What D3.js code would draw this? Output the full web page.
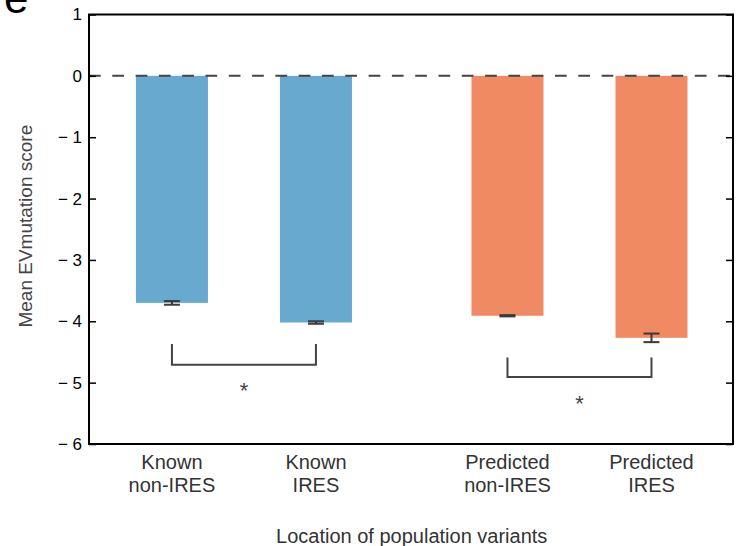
<!DOCTYPE html>
<html>
<head>
<meta charset="utf-8">
<script src="https://cdn.jsdelivr.net/npm/d3@7"></script>
<style>
  body { margin: 0; background: #fff; }
  text { font-family: "Liberation Sans", Arial, sans-serif; }
</style>
</head>
<body>
<svg id="chart" width="741" height="546"></svg>
<script>
// bar data
var labelTop = ["Known", "Known", "Predicted", "Predicted"];
var labelBottom = ["non-IRES", "IRES", "non-IRES", "IRES"];
var positions = [0, 1, 2.33, 3.33];
var means = [-3.70, -4.02, -3.91, -4.27];
var errors = [0.03, 0.02, 0.01, 0.07];
var barColors = ["#67a9cf", "#67a9cf", "#ef8a62", "#ef8a62"];

// significance brackets (bar index from/to, y values in data units)
var bracketFrom = [0, 2];
var bracketTo = [1, 3];
var bracketTop = [-4.37, -4.59];
var bracketBottom = [-4.71, -4.91];
var starY = [-5.0, -5.21];

var yTicks = [1, 0, -1, -2, -3, -4, -5, -6];

var svg = d3.select("#chart"),
    margin = {top: 14.5, right: 8, bottom: 102, left: 89},
    width = +svg.attr("width") - margin.left - margin.right,
    height = +svg.attr("height") - margin.top - margin.bottom;

var g = svg.append("g")
    .attr("transform", "translate(" + margin.left + "," + margin.top + ")");

var x = d3.scaleLinear().domain([-0.576, 3.896]).range([0, width]);
var y = d3.scaleLinear().domain([-6, 1]).range([height, 0]);
var barW = x(0.5) - x(0);

var data = means.map(function(d, i) {
  return {pos: positions[i], mean: d, err: errors[i], color: barColors[i]};
});

// bars
g.selectAll("rect.bar")
    .data(data)
  .enter().append("rect")
    .attr("class", "bar")
    .attr("x", function(d) { return x(d.pos) - barW / 2; })
    .attr("y", y(0))
    .attr("width", barW)
    .attr("height", function(d) { return y(d.mean) - y(0); })
    .attr("fill", function(d) { return d.color; });

// zero line
g.append("line")
    .attr("x1", 0).attr("x2", width)
    .attr("y1", y(0)).attr("y2", y(0))
    .attr("stroke", "#444")
    .attr("stroke-width", 2)
    .attr("stroke-dasharray", "11.7,11.6");

// error bars
var eb = g.append("g").attr("stroke", "#3a3a3a").attr("stroke-width", 2).attr("fill", "none");
data.forEach(function(d) {
  var cx = x(d.pos);
  eb.append("line").attr("x1", cx).attr("x2", cx)
      .attr("y1", y(d.mean + d.err)).attr("y2", y(d.mean - d.err));
  [d.mean + d.err, d.mean - d.err].forEach(function(v) {
    eb.append("line").attr("x1", cx - 8).attr("x2", cx + 8)
        .attr("y1", y(v)).attr("y2", y(v));
  });
});

// brackets and stars
bracketFrom.forEach(function(a, i) {
  var x1 = x(positions[a]), x2 = x(positions[bracketTo[i]]);
  g.append("path")
      .attr("d", "M" + x1 + "," + y(bracketTop[i]) + "V" + y(bracketBottom[i]) +
                 "H" + x2 + "V" + y(bracketTop[i]))
      .attr("fill", "none")
      .attr("stroke", "#444")
      .attr("stroke-width", 2);
  g.append("text")
      .attr("x", (x1 + x2) / 2)
      .attr("y", y(starY[i]))
      .attr("dy", "0.7em")
      .attr("text-anchor", "middle")
      .attr("font-size", "22px")
      .attr("fill", "#444")
      .text("*");
});

// y axis (left, ticks inward)
var yAxis = g.append("g")
    .call(d3.axisLeft(y).tickValues(yTicks).tickSize(-7).tickPadding(7)
      .tickFormat(function(d) { return d < 0 ? "\u2212 " + Math.abs(d) : d; }));
yAxis.select(".domain").remove();
yAxis.selectAll(".tick line").attr("stroke", "#000").attr("stroke-width", 1.5);
yAxis.selectAll(".tick text").attr("font-size", "17px").attr("fill", "#000")
    .attr("font-family", "Liberation Sans, Arial, sans-serif");

// right ticks inward
var yAxisR = g.append("g")
    .attr("transform", "translate(" + width + ",0)")
    .call(d3.axisRight(y).tickValues(yTicks).tickSize(-7).tickFormat(""));
yAxisR.select(".domain").remove();
yAxisR.selectAll(".tick line").attr("stroke", "#000").attr("stroke-width", 1.5);

// frame
g.append("rect")
    .attr("width", width).attr("height", height)
    .attr("fill", "none")
    .attr("stroke", "#000")
    .attr("stroke-width", 2);

// category labels
var cats = g.append("g").attr("fill", "#333").attr("font-size", "20px").attr("text-anchor", "middle");
positions.forEach(function(p, i) {
  var t = cats.append("text").attr("x", x(p)).attr("y", height + 25);
  t.append("tspan").attr("x", x(p)).text(labelTop[i]);
  t.append("tspan").attr("x", x(p)).attr("dy", 23).text(labelBottom[i]);
});

// axis titles
g.append("text")
    .attr("x", (x(positions[1]) + x(positions[2])) / 2)
    .attr("y", height + 99)
    .attr("text-anchor", "middle")
    .attr("font-size", "20px")
    .attr("fill", "#333")
    .text("Location of population variants");

g.append("text")
    .attr("transform", "rotate(-90)")
    .attr("x", -(y(-2.45)))
    .attr("y", -57)
    .attr("text-anchor", "middle")
    .attr("font-size", "19px")
    .attr("fill", "#444")
    .text("Mean EVmutation score");

// panel letter
svg.append("text")
    .attr("x", 4)
    .attr("y", 13)
    .attr("font-size", "44px")
    .attr("fill", "#000")
    .text("e");
</script>
</body>
</html>
